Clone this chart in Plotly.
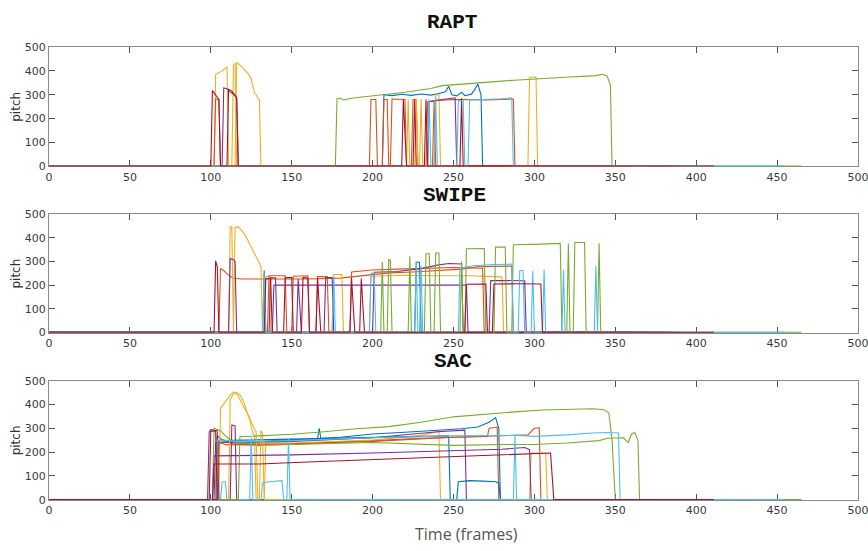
import plotly.graph_objects as go

# MATLAB default colour order
BLUE, ORANGE, YELLOW, PURPLE, GREEN, CYAN, DRED = (
    "#0072BD", "#D95319", "#EDB120", "#7E2F8E", "#77AC30", "#4DBEEE", "#A2142F")

X_TICKS = [0, 50, 100, 150, 200, 250, 300, 350, 400, 450, 500]
Y_TICKS = [0, 100, 200, 300, 400, 500]
PANEL_TITLES = ["RAPT", "SWIPE", "SAC"]

# ---------------- RAPT : (frame, pitch) breakpoints per track ----------------
RAPT_BLUE_1 = [(0, 0), (206, 0), (207, 300), (212, 296), (218, 302), (224, 297), (230, 303), (236, 298),
               (241, 305), (245, 312), (247, 335), (249, 300), (252, 295), (255, 310), (257, 296), (261, 302),
               (263, 320), (265, 345), (267, 300), (268, 0), (380, 0)]
RAPT_ORANGE_1 = [(0, 0), (198, 0), (199, 280), (202, 280), (203, 0), (206, 0), (207, 280), (209, 280), (210, 0),
                 (211, 0), (212, 282), (220, 280), (221, 0), (233, 0), (234, 270), (240, 276), (250, 280),
                 (260, 278), (270, 278), (280, 280), (287, 282), (288, 0), (390, 0)]
RAPT_YELLOW_1 = [(0, 0), (102, 0), (103, 385), (105, 392), (107, 400), (109, 410), (110, 418), (111, 0),
                 (113, 0), (114, 425), (115, 432), (116, 0), (221, 0), (222, 280), (223, 0), (229, 0),
                 (230, 282), (231, 0), (238, 0), (239, 300), (241, 300), (242, 0), (296, 0), (297, 372),
                 (301, 375), (302, 0), (395, 0)]
RAPT_PURPLE_1 = [(0, 0), (107, 0), (108, 328), (110, 325), (112, 312), (114, 302), (116, 285), (117, 0),
                 (234, 0), (235, 270), (240, 276), (246, 283), (251, 287), (252, 0), (385, 0)]
RAPT_GREEN_1 = [(0, 0), (177, 0), (178, 283), (180, 286), (182, 278), (186, 284), (192, 289), (200, 294),
                (206, 300), (212, 304), (220, 310), (228, 318), (236, 326), (243, 338), (250, 342), (258, 347),
                (266, 350), (274, 355), (282, 358), (290, 362), (298, 364), (306, 368), (314, 371), (322, 374),
                (330, 378), (338, 380), (342, 386), (345, 378), (347, 340), (348, 0), (465, 0)]
RAPT_CYAN_1 = [(0, 0), (234, 0), (235, 280), (236, 0), (238, 0), (239, 290), (240, 0), (252, 0), (253, 275),
               (256, 275), (257, 0), (259, 0), (260, 278), (270, 280), (280, 283), (286, 287), (287, 0), (455, 0)]
RAPT_DRED_1 = [(0, 0), (100, 0), (101, 317), (103, 300), (105, 280), (106, 0), (218, 0), (219, 280),
               (221, 0), (232, 0), (233, 280), (234, 0), (411, 0)]
RAPT_ORANGE_2 = [(0, 0), (102, 0), (103, 282), (105, 278), (106, 0), (224, 0), (225, 280), (227, 280),
                 (228, 0), (237, 0), (238, 270), (239, 0), (380, 0)]
RAPT_YELLOW_2 = [(0, 0), (115, 0), (116, 436), (118, 425), (120, 413), (122, 396), (124, 380), (125, 365),
                 (126, 335), (127, 308), (128, 300), (129, 285), (130, 280), (131, 0), (226, 0), (227, 282),
                 (228, 0), (370, 0)]
RAPT_DRED_2 = [(0, 0), (110, 0), (111, 322), (113, 315), (116, 288), (117, 0), (225, 0), (226, 278),
               (227, 0), (254, 0), (255, 285), (256, 0), (360, 0)]

RAPT_TRACKS = [(RAPT_BLUE_1, BLUE), (RAPT_ORANGE_1, ORANGE), (RAPT_YELLOW_1, YELLOW), (RAPT_PURPLE_1, PURPLE),
               (RAPT_ORANGE_2, ORANGE), (RAPT_YELLOW_2, YELLOW), (RAPT_DRED_2, DRED),
               (RAPT_GREEN_1, GREEN), (RAPT_CYAN_1, CYAN), (RAPT_DRED_1, DRED)]

# ---------------- SWIPE ----------------
SWIPE_BLUE_1 = [(0, 0), (132, 0), (133, 262), (134, 0), (226, 0), (227, 298), (229, 296), (230, 0),
                (380, 0)]
SWIPE_ORANGE_1 = [(0, 0), (105, 0), (106, 271), (108, 262), (110, 248), (112, 236), (114, 228), (120, 226),
                  (140, 225), (160, 226), (180, 230), (200, 244), (210, 252), (225, 256), (240, 262),
                  (255, 268), (265, 278), (275, 280), (286, 281), (287, 0), (390, 0)]
SWIPE_YELLOW_1 = [(0, 0), (111, 0), (112, 447), (113, 447), (114, 0), (115, 445), (117, 447), (120, 425),
                  (122, 402), (124, 375), (126, 347), (128, 320), (130, 292), (131, 280), (132, 0),
                  (133, 0), (134, 236), (136, 236), (137, 0), (175, 0), (176, 245), (181, 245), (182, 0),
                  (198, 0), (199, 238), (220, 242), (240, 240), (260, 240), (275, 236), (280, 234),
                  (281, 0), (385, 0)]
SWIPE_PURPLE_1 = [(0, 0), (111, 0), (112, 313), (114, 308), (115, 300), (116, 0), (138, 0), (139, 200),
                  (180, 200), (220, 200), (258, 200), (259, 0), (272, 0), (273, 220), (285, 221),
                  (294, 219), (295, 0), (385, 0)]
SWIPE_GREEN_1 = [(0, 0), (205, 0), (206, 299), (207, 0), (209, 0), (210, 308), (211, 305), (212, 0),
                 (222, 0), (223, 322), (224, 0), (232, 0), (233, 333), (235, 333), (236, 0), (238, 0),
                 (239, 336), (241, 336), (242, 0), (254, 0), (255, 300), (256, 0), (257, 0), (258, 354),
                 (269, 355), (270, 0), (275, 0), (276, 361), (282, 361), (283, 0), (286, 0), (287, 371),
                 (300, 373), (316, 377), (317, 0), (320, 0), (321, 377), (322, 0), (324, 0), (325, 381),
                 (331, 381), (332, 0), (339, 0), (340, 378), (341, 0), (465, 0)]
SWIPE_CYAN_1 = [(0, 0), (132, 0), (133, 250), (134, 0), (175, 0), (176, 238), (177, 0), (198, 0), (199, 250),
                (201, 250), (202, 0), (226, 0), (227, 298), (228, 0), (229, 0), (230, 280), (231, 0),
                (253, 0), (254, 272), (262, 282), (275, 287), (286, 289), (287, 0), (290, 0), (291, 262),
                (293, 262), (294, 0), (298, 0), (299, 260), (300, 0), (305, 0), (306, 265), (307, 0),
                (317, 0), (318, 265), (319, 0), (337, 0), (338, 281), (339, 0), (455, 0)]
SWIPE_DRED_1 = [(0, 0), (102, 0), (103, 303), (104, 278), (105, 0), (133, 0), (134, 228), (137, 226),
                (138, 0), (156, 0), (157, 232), (160, 230), (161, 0), (186, 0), (187, 230), (189, 0),
                (257, 0), (258, 204), (270, 205), (271, 0), (274, 0), (275, 205), (290, 206), (304, 205),
                (305, 0), (411, 0)]
SWIPE_ORANGE_2 = [(0, 0), (135, 0), (136, 240), (146, 240), (147, 0), (150, 0), (151, 238), (160, 240),
                  (161, 0), (165, 0), (166, 236), (172, 236), (173, 0), (186, 0), (187, 256), (200, 264),
                  (215, 268), (230, 272), (250, 275), (268, 272), (269, 0), (375, 0)]
SWIPE_PURPLE_2 = [(0, 0), (136, 0), (137, 232), (140, 230), (141, 0), (153, 0), (154, 226), (156, 0),
                  (170, 0), (171, 232), (175, 232), (176, 0), (200, 0), (201, 255), (215, 258), (230, 270),
                  (240, 285), (247, 292), (255, 290), (256, 0), (370, 0)]
SWIPE_DRED_2 = [(0, 0), (145, 0), (146, 232), (150, 232), (151, 0), (165, 0), (166, 230), (168, 0),
                (192, 0), (193, 228), (195, 0), (360, 0)]

SWIPE_TRACKS = [(SWIPE_BLUE_1, BLUE), (SWIPE_ORANGE_1, ORANGE), (SWIPE_YELLOW_1, YELLOW),
                (SWIPE_PURPLE_1, PURPLE), (SWIPE_ORANGE_2, ORANGE), (SWIPE_PURPLE_2, PURPLE),
                (SWIPE_DRED_2, DRED), (SWIPE_GREEN_1, GREEN), (SWIPE_CYAN_1, CYAN), (SWIPE_DRED_1, DRED)]

# ---------------- SAC ----------------
SAC_BLUE_1 = [(0, 0), (103, 0), (104, 268), (106, 255), (110, 245), (115, 238), (120, 236), (130, 244),
              (140, 249), (150, 252), (160, 254), (166, 256), (167, 300), (168, 258), (180, 262), (200, 276),
              (220, 283), (240, 290), (255, 298), (265, 305), (272, 325), (276, 345), (278, 300), (279, 0),
              (380, 0)]
SAC_BLUE_2 = [(0, 0), (104, 0), (105, 248), (120, 250), (150, 255), (200, 262), (240, 268), (247, 268),
              (248, 0), (252, 0), (253, 75), (260, 80), (268, 78), (276, 75), (278, 70), (279, 0), (380, 0)]
SAC_ORANGE_1 = [(0, 0), (103, 0), (104, 270), (108, 245), (115, 232), (130, 228), (150, 232), (180, 240),
                (200, 248), (230, 258), (250, 262), (271, 266), (272, 300), (277, 305), (278, 0), (390, 0)]
SAC_ORANGE_2 = [(0, 0), (104, 0), (105, 240), (110, 230), (150, 235), (200, 245), (250, 262), (285, 268),
                (296, 272), (300, 300), (303, 302), (304, 0), (390, 0)]
SAC_YELLOW_1 = [(0, 0), (105, 0), (106, 383), (108, 400), (110, 420), (112, 440), (114, 452), (116, 450),
                (118, 440), (120, 417), (122, 380), (124, 335), (126, 280), (127, 270), (128, 0), (133, 0),
                (134, 240), (150, 238), (200, 250), (230, 270), (241, 287), (242, 0), (395, 0)]
SAC_YELLOW_2 = [(0, 0), (111, 0), (112, 420), (114, 445), (116, 445), (118, 420), (120, 400), (122, 376),
                (124, 345), (126, 310), (128, 285), (129, 0), (130, 0), (131, 290), (132, 280), (133, 0),
                (297, 0), (298, 196), (307, 196), (308, 0), (395, 0)]
SAC_PURPLE_1 = [(0, 0), (98, 0), (99, 285), (100, 294), (104, 290), (105, 0), (112, 0), (113, 314),
                (115, 310), (116, 0), (385, 0)]
SAC_PURPLE_2 = [(0, 0), (101, 0), (102, 184), (150, 188), (200, 196), (250, 205), (280, 212), (294, 219),
                (297, 210), (298, 0), (385, 0)]
SAC_PURPLE_3 = [(0, 0), (102, 0), (103, 240), (150, 245), (200, 260), (240, 285), (257, 292), (258, 0),
                (370, 0)]
SAC_GREEN_1 = [(0, 0), (117, 0), (118, 264), (130, 268), (150, 275), (170, 285), (190, 298), (210, 307),
               (230, 325), (250, 348), (270, 360), (290, 370), (305, 377), (320, 380), (336, 382), (343, 378),
               (346, 365), (348, 250), (350, 0), (465, 0)]
SAC_GREEN_2 = [(0, 0), (101, 0), (102, 300), (106, 290), (110, 262), (114, 242), (120, 236), (150, 232),
               (200, 240), (250, 228), (280, 232), (300, 232), (320, 238), (340, 248), (345, 258), (355, 260),
               (358, 240), (360, 275), (362, 283), (364, 250), (365, 0), (400, 0)]
SAC_CYAN_1 = [(0, 0), (106, 0), (107, 75), (109, 75), (110, 0), (124, 0), (125, 260), (126, 0), (131, 0),
              (132, 70), (136, 75), (140, 78), (144, 80), (145, 0), (147, 0), (148, 255), (149, 0),
              (287, 0), (288, 270), (289, 0), (400, 0)]
SAC_CYAN_2 = [(0, 0), (103, 0), (104, 250), (120, 245), (150, 248), (200, 260), (250, 268), (280, 270),
              (290, 270), (300, 266), (320, 272), (336, 280), (345, 282), (352, 280), (353, 0), (455, 0)]
SAC_DRED_1 = [(0, 0), (99, 0), (100, 287), (103, 290), (104, 0), (101, 0), (102, 150), (130, 150),
              (160, 158), (210, 171), (250, 180), (280, 188), (300, 194), (310, 196), (312, 0), (411, 0)]

SAC_TRACKS = [(SAC_BLUE_1, BLUE), (SAC_ORANGE_1, ORANGE), (SAC_YELLOW_1, YELLOW), (SAC_PURPLE_1, PURPLE),
              (SAC_PURPLE_3, PURPLE), (SAC_BLUE_2, BLUE), (SAC_ORANGE_2, ORANGE), (SAC_YELLOW_2, YELLOW),
              (SAC_PURPLE_2, PURPLE), (SAC_GREEN_2, GREEN), (SAC_CYAN_1, CYAN),
              (SAC_GREEN_1, GREEN), (SAC_CYAN_2, CYAN), (SAC_DRED_1, DRED)]

PANELS = [RAPT_TRACKS, SWIPE_TRACKS, SAC_TRACKS]

# ---------------- layout geometry (pixels) ----------------
W, H = 868, 551
PLOT_L, PLOT_R = 49, 858
PANEL_PX = [(42, 164), (213, 334), (383, 505)]   # (top, bottom)
TITLE_PX = [(452, 17), (455, 194), (453, 363)]

fig = go.Figure()
for i, tracks in enumerate(PANELS):
    ax = "" if i == 0 else str(i + 1)
    for pts, col in tracks:
        fig.add_trace(go.Scatter(
            x=[p[0] for p in pts], y=[p[1] for p in pts], mode="lines",
            line=dict(color=col, width=1.1), showlegend=False, hoverinfo="skip",
            xaxis="x" + ax, yaxis="y" + ax))
    top, bot = PANEL_PX[i]
    common = dict(showline=True, linecolor="#8a8a8a", linewidth=1.2, mirror="ticks",
                  ticks="inside", ticklen=6, tickwidth=1, tickcolor="#555555",
                  showgrid=False, zeroline=False, layer="below traces",
                  ticklabeloverflow="allow",
                  tickfont=dict(family="DejaVu Sans", size=11, color="#3a3a3a"))
    fig.layout["xaxis" + ax] = dict(domain=[0, 1], range=[0, 500.01], tickvals=X_TICKS,
                                    anchor="y" + ax, **common)
    fig.layout["yaxis" + ax] = dict(domain=[1 - bot / H, 1 - top / H], range=[-1.5, 500],
                                    tickvals=Y_TICKS, anchor="x" + ax, **common)
    tx, ty = TITLE_PX[i]
    fig.add_annotation(text="<b>%s</b>" % PANEL_TITLES[i], xref="paper", yref="paper",
                       x=(tx - PLOT_L) / (PLOT_R - PLOT_L), y=1 - ty / H, showarrow=False,
                       xanchor="center", yanchor="middle",
                       font=dict(family="Courier New, Nimbus Mono PS, FreeMono, Liberation Mono, monospace",
                                 size=21, color="#111111"))
    fig.add_annotation(text="pitch", xref="paper", yref="paper",
                       x=(16 - PLOT_L) / (PLOT_R - PLOT_L), y=1 - (top + bot) / 2 / H,
                       showarrow=False, textangle=-90, xanchor="center", yanchor="middle",
                       font=dict(family="DejaVu Sans", size=12, color="#333333"))

fig.add_annotation(text="Time (frames)", xref="paper", yref="paper",
                   x=(466 - PLOT_L) / (PLOT_R - PLOT_L), y=1 - 540 / H, showarrow=False,
                   xanchor="center", yanchor="middle",
                   font=dict(family="Open Sans", size=16, color="#555555"))

fig.update_layout(width=W, height=H, margin=dict(l=PLOT_L, r=W - PLOT_R, t=0, b=0),
                  paper_bgcolor="white", plot_bgcolor="white")
fig.write_html("out.html")
